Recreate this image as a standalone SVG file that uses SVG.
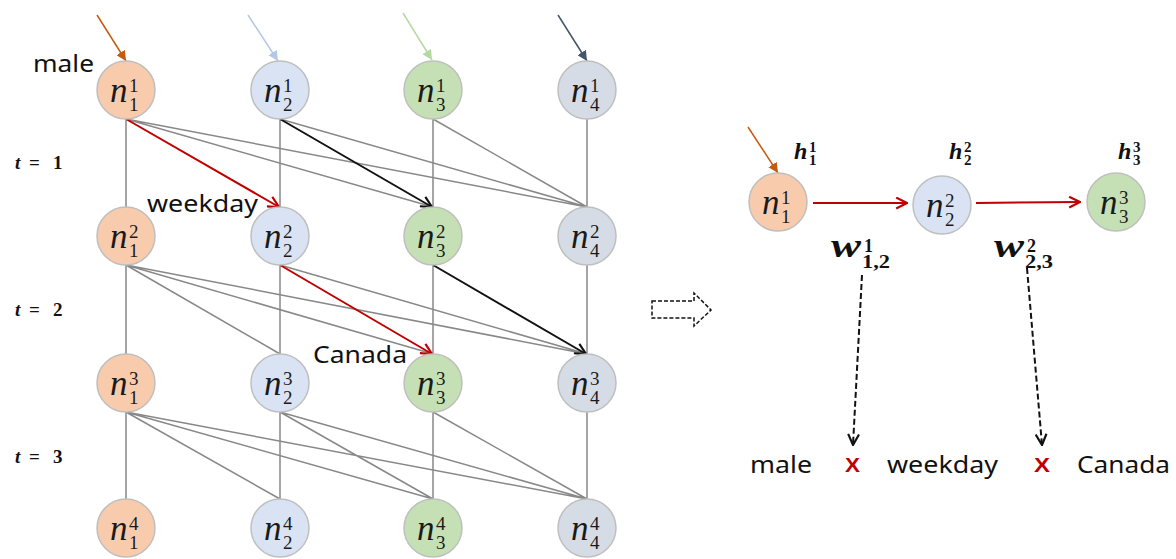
<svg xmlns="http://www.w3.org/2000/svg" width="1176" height="559" viewBox="0 0 1176 559">
<style>
.node{stroke:#bfbfbf;stroke-width:1.5}
.c1{fill:#f8cbad}.c2{fill:#dae3f3}.c3{fill:#c5e0b4}.c4{fill:#d6dce5}
.n{font-family:"Liberation Serif",serif;font-style:italic;font-size:35px;fill:#1a1a1a}
.d{font-family:"Liberation Serif",serif;font-size:19px;fill:#1a1a1a}
.lbl{font-family:"Noto Sans","Liberation Sans",sans-serif;font-size:23px;fill:#111}
.t{font-family:"Liberation Serif",serif;font-weight:bold;font-size:19px;fill:#111}
.hb{font-family:"Liberation Serif",serif;font-weight:bold;font-style:italic;fill:#111}
.hd{font-family:"Liberation Serif",serif;font-weight:bold;fill:#111}
.g{stroke:#888;stroke-width:1.5;fill:none}
.red{stroke:#c00000;stroke-width:2;fill:none}
.blk{stroke:#111;stroke-width:2;fill:none}
.x{font-family:"Liberation Sans",sans-serif;font-weight:bold;font-size:21px;fill:#c00000}
</style>
<defs>
<marker id="mr" viewBox="0 0 12 12" refX="11" refY="6" markerWidth="13" markerHeight="13" markerUnits="userSpaceOnUse" orient="auto"><path d="M1,1 L11,6 L1,11" fill="none" stroke="#c00000" stroke-width="2"/></marker>
<marker id="mb" viewBox="0 0 12 12" refX="11" refY="6" markerWidth="13" markerHeight="13" markerUnits="userSpaceOnUse" orient="auto"><path d="M1,1 L11,6 L1,11" fill="none" stroke="#111" stroke-width="2"/></marker>
<marker id="mo" viewBox="0 0 10 10" refX="10" refY="5" markerWidth="10" markerHeight="10" markerUnits="userSpaceOnUse" orient="auto"><path d="M0,0 L10,5 L0,10 z" fill="#c55a11"/></marker>
<marker id="ml" viewBox="0 0 10 10" refX="10" refY="5" markerWidth="10" markerHeight="10" markerUnits="userSpaceOnUse" orient="auto"><path d="M0,0 L10,5 L0,10 z" fill="#b4c7e7"/></marker>
<marker id="mg" viewBox="0 0 10 10" refX="10" refY="5" markerWidth="10" markerHeight="10" markerUnits="userSpaceOnUse" orient="auto"><path d="M0,0 L10,5 L0,10 z" fill="#b5d9a0"/></marker>
<marker id="md" viewBox="0 0 10 10" refX="10" refY="5" markerWidth="10" markerHeight="10" markerUnits="userSpaceOnUse" orient="auto"><path d="M0,0 L10,5 L0,10 z" fill="#44546a"/></marker>
</defs>

<g id="connectors">
<path class="g" d="M126,119V207M280,119V207M433,119V207M587,119V207M126,265V354M280,265V354M433,265V354M587,265V354M126,412V499M280,412V499M433,412V499M587,412V499"/>
<path class="g" d="M126,119L433,207M126,119L587,207M280,119L587,207M433,119L587,207"/>
<line class="red" x1="126" y1="119" x2="279" y2="207" marker-end="url(#mr)"/>
<line class="blk" x1="280" y1="119" x2="432" y2="207" marker-end="url(#mb)"/>
<path class="g" d="M126,265L280,354M126,265L433,354M126,265L587,354M280,265L587,354"/>
<line class="red" x1="280" y1="265" x2="432" y2="354" marker-end="url(#mr)"/>
<line class="blk" x1="433" y1="265" x2="586" y2="354" marker-end="url(#mb)"/>
<path class="g" d="M126,412L280,499M126,412L433,499M126,412L587,499M280,412L433,499M280,412L587,499M433,412L587,499"/>
<line x1="97" y1="15" x2="126" y2="61" stroke="#c55a11" stroke-width="1.5" marker-end="url(#mo)"/>
<line x1="248" y1="15" x2="278" y2="61" stroke="#b4c7e7" stroke-width="1.5" marker-end="url(#ml)"/>
<line x1="403" y1="13" x2="432" y2="60" stroke="#b5d9a0" stroke-width="1.5" marker-end="url(#mg)"/>
<line x1="558" y1="15" x2="587" y2="61" stroke="#44546a" stroke-width="1.5" marker-end="url(#md)"/>
<line x1="748" y1="127" x2="778" y2="173" stroke="#c55a11" stroke-width="1.5" marker-end="url(#mo)"/>
<line class="red" x1="813" y1="203" x2="907" y2="203" marker-end="url(#mr)"/>
<line class="red" x1="976" y1="203" x2="1080" y2="202" marker-end="url(#mr)"/>
<line x1="862" y1="275" x2="853" y2="445" stroke="#111" stroke-width="2" stroke-dasharray="6,3" marker-end="url(#mb)"/>
<line x1="1027" y1="268" x2="1042" y2="445" stroke="#111" stroke-width="2" stroke-dasharray="6,3" marker-end="url(#mb)"/>
<polygon points="652,301 694,301 694,293 711,310 694,326 694,318 652,318" fill="none" stroke="#111" stroke-width="1.5" stroke-dasharray="4,2"/>
</g>

<g id="n11"><circle class="node c1" cx="126" cy="90" r="29"/><text class="n" x="110" y="102">n</text><text class="d" x="129" y="92">1</text><text class="d" x="129" y="111">1</text></g>
<g id="n21"><circle class="node c2" cx="280" cy="90" r="29"/><text class="n" x="264" y="102">n</text><text class="d" x="283" y="92">1</text><text class="d" x="283" y="111">2</text></g>
<g id="n31"><circle class="node c3" cx="433" cy="90" r="29"/><text class="n" x="417" y="102">n</text><text class="d" x="436" y="92">1</text><text class="d" x="436" y="111">3</text></g>
<g id="n41"><circle class="node c4" cx="587" cy="90" r="29"/><text class="n" x="571" y="102">n</text><text class="d" x="590" y="92">1</text><text class="d" x="590" y="111">4</text></g>

<g id="n12"><circle class="node c1" cx="126" cy="236" r="29"/><text class="n" x="110" y="248">n</text><text class="d" x="129" y="238">2</text><text class="d" x="129" y="257">1</text></g>
<g id="n22"><circle class="node c2" cx="280" cy="236" r="29"/><text class="n" x="264" y="248">n</text><text class="d" x="283" y="238">2</text><text class="d" x="283" y="257">2</text></g>
<g id="n32"><circle class="node c3" cx="433" cy="236" r="29"/><text class="n" x="417" y="248">n</text><text class="d" x="436" y="238">2</text><text class="d" x="436" y="257">3</text></g>
<g id="n42"><circle class="node c4" cx="587" cy="236" r="29"/><text class="n" x="571" y="248">n</text><text class="d" x="590" y="238">2</text><text class="d" x="590" y="257">4</text></g>

<g id="n13"><circle class="node c1" cx="126" cy="383" r="29"/><text class="n" x="110" y="395">n</text><text class="d" x="129" y="385">3</text><text class="d" x="129" y="404">1</text></g>
<g id="n23"><circle class="node c2" cx="280" cy="383" r="29"/><text class="n" x="264" y="395">n</text><text class="d" x="283" y="385">3</text><text class="d" x="283" y="404">2</text></g>
<g id="n33"><circle class="node c3" cx="433" cy="383" r="29"/><text class="n" x="417" y="395">n</text><text class="d" x="436" y="385">3</text><text class="d" x="436" y="404">3</text></g>
<g id="n43"><circle class="node c4" cx="587" cy="383" r="29"/><text class="n" x="571" y="395">n</text><text class="d" x="590" y="385">3</text><text class="d" x="590" y="404">4</text></g>

<g id="n14"><circle class="node c1" cx="126" cy="528" r="29"/><text class="n" x="110" y="540">n</text><text class="d" x="129" y="530">4</text><text class="d" x="129" y="549">1</text></g>
<g id="n24"><circle class="node c2" cx="280" cy="528" r="29"/><text class="n" x="264" y="540">n</text><text class="d" x="283" y="530">4</text><text class="d" x="283" y="549">2</text></g>
<g id="n34"><circle class="node c3" cx="433" cy="528" r="29"/><text class="n" x="417" y="540">n</text><text class="d" x="436" y="530">4</text><text class="d" x="436" y="549">3</text></g>
<g id="n44"><circle class="node c4" cx="587" cy="528" r="29"/><text class="n" x="571" y="540">n</text><text class="d" x="590" y="530">4</text><text class="d" x="590" y="549">4</text></g>

<g id="labels">
<text class="lbl" x="33" y="72" textLength="61" lengthAdjust="spacingAndGlyphs">male</text>
<text class="lbl" x="147" y="212" textLength="111" lengthAdjust="spacingAndGlyphs">weekday</text>
<text class="lbl" x="313" y="363" textLength="94" lengthAdjust="spacingAndGlyphs">Canada</text>
<text class="t" y="169"><tspan x="15" font-style="italic">t</tspan><tspan x="29">=</tspan><tspan x="53">1</tspan></text>
<text class="t" y="316"><tspan x="15" font-style="italic">t</tspan><tspan x="29">=</tspan><tspan x="53">2</tspan></text>
<text class="t" y="463"><tspan x="15" font-style="italic">t</tspan><tspan x="29">=</tspan><tspan x="53">3</tspan></text>
</g>

<g id="r1"><circle class="node c1" cx="778" cy="202" r="29"/><text class="n" x="762" y="214">n</text><text class="d" x="781" y="204">1</text><text class="d" x="781" y="223">1</text></g>
<g id="r2"><circle class="node c2" cx="942" cy="205" r="29"/><text class="n" x="926" y="217">n</text><text class="d" x="945" y="207">2</text><text class="d" x="945" y="226">2</text></g>
<g id="r3"><circle class="node c3" cx="1116" cy="202" r="29"/><text class="n" x="1100" y="214">n</text><text class="d" x="1119" y="204">3</text><text class="d" x="1119" y="223">3</text></g>

<g id="rlabels">
<text class="hb" x="794" y="159" font-size="24">h</text><text class="hd" x="809" y="152" font-size="15">1</text><text class="hd" x="809" y="165" font-size="15">1</text>
<text class="hb" x="949" y="159" font-size="24">h</text><text class="hd" x="964" y="152" font-size="15">2</text><text class="hd" x="964" y="165" font-size="15">2</text>
<text class="hb" x="1118" y="159" font-size="24">h</text><text class="hd" x="1133" y="152" font-size="15">3</text><text class="hd" x="1133" y="165" font-size="15">3</text>
<text class="hb" x="831" y="257" font-size="34" textLength="30" lengthAdjust="spacingAndGlyphs">w</text><text class="hd" x="864" y="252" font-size="18">1</text><text class="hd" x="862" y="268" font-size="18" textLength="28" lengthAdjust="spacingAndGlyphs">1,2</text>
<text class="hb" x="994" y="257" font-size="34" textLength="30" lengthAdjust="spacingAndGlyphs">w</text><text class="hd" x="1027" y="252" font-size="18">2</text><text class="hd" x="1025" y="268" font-size="18" textLength="28" lengthAdjust="spacingAndGlyphs">2,3</text>
<text class="lbl" x="750" y="473" font-size="24" textLength="62" lengthAdjust="spacingAndGlyphs">male</text>
<text class="x" x="845" y="472" textLength="15" lengthAdjust="spacingAndGlyphs">X</text>
<text class="lbl" x="887" y="473" font-size="24" textLength="111" lengthAdjust="spacingAndGlyphs">weekday</text>
<text class="x" x="1034" y="472" textLength="16" lengthAdjust="spacingAndGlyphs">X</text>
<text class="lbl" x="1077" y="473" font-size="24" textLength="93" lengthAdjust="spacingAndGlyphs">Canada</text>
</g>
</svg>
